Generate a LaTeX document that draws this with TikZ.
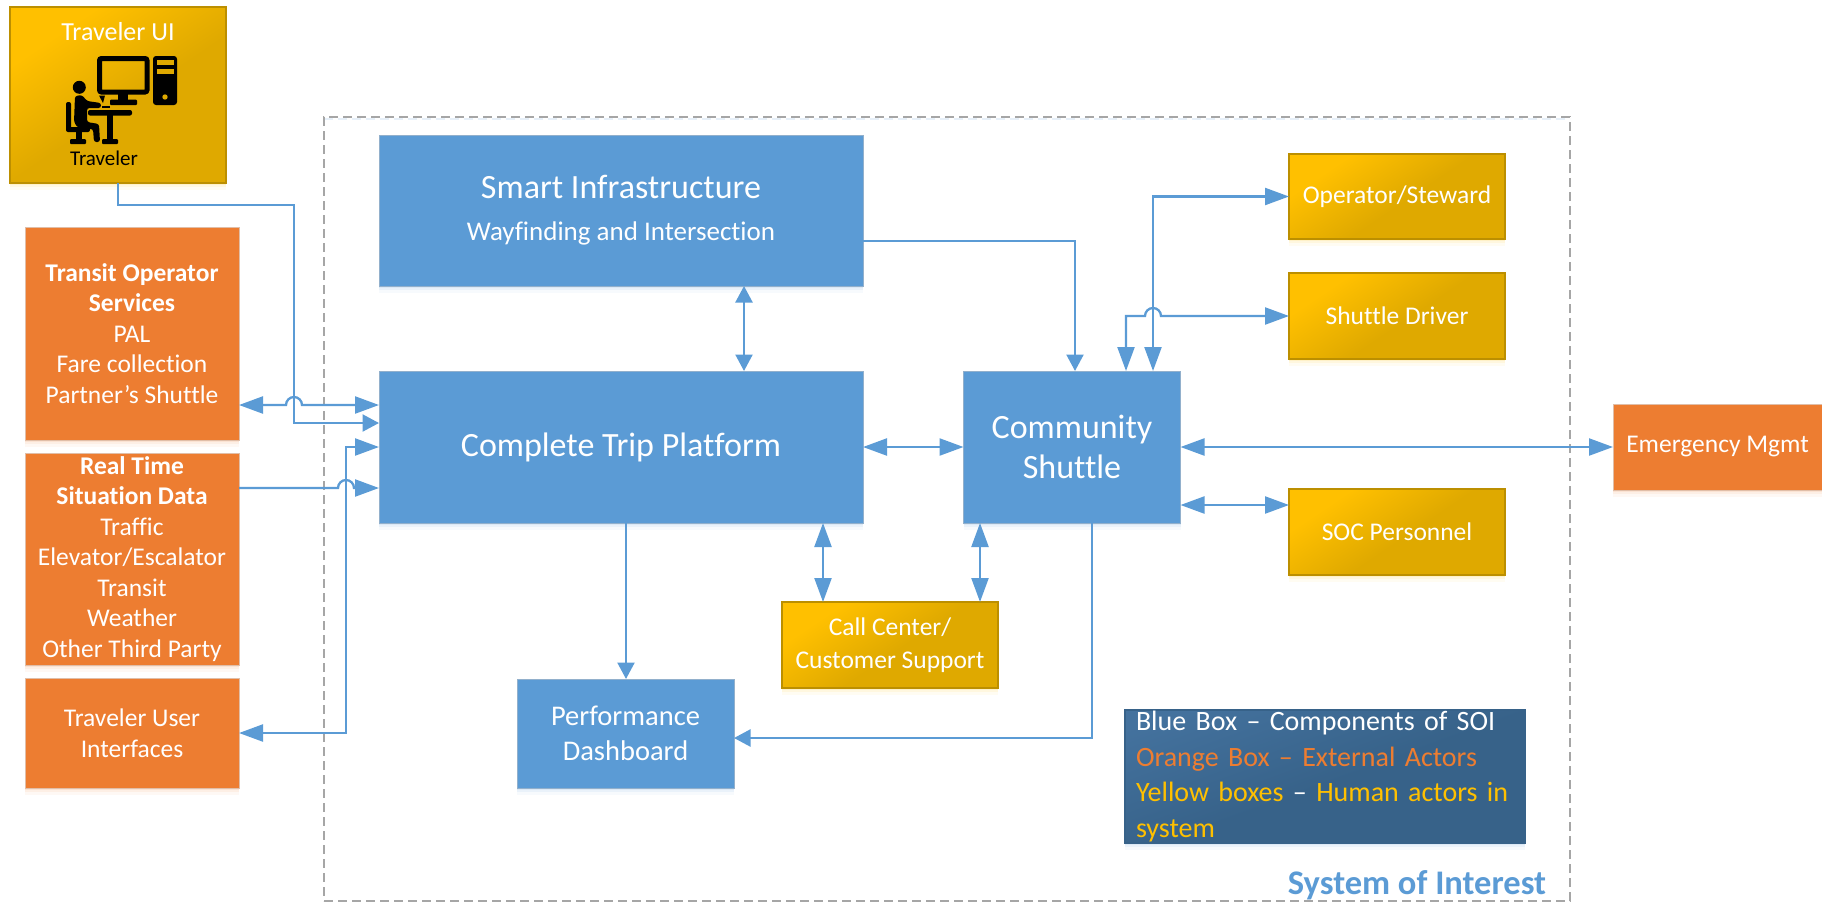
\documentclass[tikz,border=0pt]{standalone}
\usepackage{fontspec}
\setmainfont[Ligatures=NoCommon]{Carlito}
\usetikzlibrary{arrows.meta,shadows,calc}
\definecolor{cblue}{HTML}{5B9BD5}
\definecolor{corange}{HTML}{ED7D31}
\definecolor{cyl}{HTML}{FFC000}
\definecolor{cyd}{HTML}{DFA900}
\definecolor{cyb}{HTML}{BC8F00}
\definecolor{clegl}{HTML}{44729E}
\definecolor{clegd}{HTML}{376289}
\pgfdeclareverticalshading{yellowgrad}{100bp}{color(0bp)=(cyd); color(47bp)=(cyd); color(72bp)=(cyl); color(100bp)=(cyl)}
\pgfdeclareverticalshading{leggrad}{100bp}{color(0bp)=(clegd); color(48bp)=(clegd); color(78bp)=(clegl); color(100bp)=(clegl)}
\tikzset{
  softshadow/.style={
    general shadow={shadow xshift=0pt,shadow yshift=-2pt,opacity=.10,fill=#1},
    general shadow={shadow xshift=0pt,shadow yshift=-4pt,opacity=.08,fill=#1},
    general shadow={shadow xshift=0pt,shadow yshift=-7pt,opacity=.05,fill=#1}},
  basebox/.style={rectangle,inner sep=0pt,outer sep=0pt,align=center,text=white},
  bluebox/.style={basebox,softshadow=cblue,fill=cblue,draw=black!20!cblue!60!white,line width=.8pt},
  orangebox/.style={basebox,softshadow=corange,fill=corange,draw=corange!60!gray!50!white,line width=.8pt},
  yellowbox/.style={basebox,softshadow=cyl,shading=yellowgrad,shading angle=34,draw=cyb,line width=1.5pt},
  legbox/.style={basebox,softshadow=cblue,shading=leggrad,shading angle=20,draw=clegd,line width=1.2pt},
  conn/.style={draw=cblue,line width=2.3pt},
  arr/.style={conn,-{Triangle[length=24pt,width=17pt]}},
  darr/.style={conn,{Triangle[length=24pt,width=17pt]}-{Triangle[length=24pt,width=17pt]}},
  sarr/.style={conn,-{Triangle[length=16.5pt,width=17pt]}},
  sdarr/.style={conn,{Triangle[length=16.5pt,width=17pt]}-{Triangle[length=16.5pt,width=17pt]}},
  fbig/.style={font=\fontsize{34}{39.5}\selectfont},
  fmid/.style={font=\fontsize{25.5}{30.5}\selectfont},
}
\begin{document}
\begin{tikzpicture}[x=1pt,y=-1pt]
\useasboundingbox (0,0) rectangle (1822,903);
% System frame
\draw[cblue!15,line width=2pt,dash pattern=on 9pt off 5pt] (324,119) -- (1570,119);
\node[rectangle,draw=black!35,line width=1.3pt,dash pattern=on 9pt off 5pt,minimum width=1246pt,minimum height=784pt,inner sep=0pt] (soi) at (947,509) {};

% Boxes
\node[yellowbox,minimum width=216pt,minimum height=176pt] (tui) at (118,95) {};
\node[orangebox,fmid,minimum width=214pt,minimum height=213pt] (top) at (132,333.5)
  {\textbf{Transit Operator}\\\textbf{Services}\\PAL\\Fare collection\\Partner’s Shuttle};
\node[orangebox,fmid,minimum width=214pt,minimum height=212pt] (rts) at (132,559)
  {\textbf{Real Time}\\\textbf{Situation Data}\\Traffic\\Elevator/Escalator\\Transit\\Weather\\Other Third Party};
\node[orangebox,fmid,minimum width=214pt,minimum height=110pt] (tif) at (132,733)
  {Traveler User\\Interfaces};
\node[bluebox,font=\fontsize{34}{42}\selectfont,minimum width=484pt,minimum height=151pt] (si) at (621,210.5)
  {Smart Infrastructure\\{\fontsize{27}{42}\selectfont Wayfinding and Intersection}};
\node[bluebox,fbig,minimum width=484pt,minimum height=152pt] (ctp) at (621,447) {Complete Trip Platform};
\node[bluebox,fbig,minimum width=217pt,minimum height=152pt] (cs) at (1072,447) {Community\\Shuttle};
\node[yellowbox,fmid,minimum width=216pt,minimum height=85pt] (ops) at (1397,196.5) {Operator/Steward};
\node[yellowbox,fmid,minimum width=216pt,minimum height=86pt] (sd) at (1397,316) {Shuttle Driver};
\node[yellowbox,fmid,minimum width=216pt,minimum height=86pt] (soc) at (1397,532) {SOC Personnel};
\node[orangebox,fmid,minimum width=209pt,minimum height=86pt] (em) at (1717.5,447) {Emergency Mgmt};
\node[yellowbox,font=\fontsize{25.5}{33}\selectfont,minimum width=216pt,minimum height=86pt] (cc) at (890,645) {Call Center/\\Customer Support};
\node[bluebox,font=\fontsize{28.5}{35}\selectfont,minimum width=217pt,minimum height=109pt] (pd) at (625.5,733.5) {Performance\\Dashboard};
\node[legbox,font=\fontsize{28}{35.5}\selectfont,minimum height=133pt,text width=378pt,inner xsep=11pt,align=left] (leg) at (1325,776.5)
  {Blue Box – Components of SOI\\\textcolor{corange}{Orange Box – External Actors}\\\textcolor{cyl}{Yellow boxes} – \textcolor{cyl}{Human actors in}\\\textcolor{cyl}{system}};
\node[text=cblue,font=\fontsize{34.5}{40}\selectfont\bfseries,inner sep=0pt] (soilabel) at (1417,885) {System of Interest};

% Traveler UI contents
\node[text=white,font=\fontsize{26}{30}\selectfont,inner sep=0pt] (tuit) at (118,32) {Traveler UI};
\node[text=black,font=\fontsize{21}{24}\selectfont,inner sep=0pt] (tvl) at (104,158) {Traveler};
% icon
\draw[black,line width=5pt,rounded corners=2pt] (99.5,58.5) rectangle (147,92);
\fill[black] (118,92) rectangle (128,101);
\fill[black,rounded corners=1pt] (110,99.5) rectangle (137,105);
\fill[black,rounded corners=3pt] (153,56) rectangle (177,105);
\fill[cyd] (157,60) rectangle (174,65);
\fill[cyd] (157,68.5) rectangle (174,73.5);
\fill[cyd] (165,97) circle[radius=2.7pt];
\fill[black] (79.3,87.3) circle[radius=6.5pt];
\fill[black,rounded corners=2.5pt] (75,96) -- (82,95) -- (87,101) -- (101,103) -- (101,108) -- (87,108) -- (87,122) -- (99,124) -- (100,142) -- (94,142) -- (93,129) -- (78,128) -- (74,122) -- cycle;
\fill[black,rounded corners=2pt] (66,102) rectangle (71,131);
\fill[black,rounded corners=2pt] (66,127) rectangle (90,132);
\fill[black] (76,132) rectangle (82,140);
\fill[black,rounded corners=1pt] (70,139) rectangle (86,144);
\fill[black,rounded corners=2pt] (88,110) rectangle (132,115.5);
\fill[black] (107,115) rectangle (113,140);
\fill[black,rounded corners=1pt] (102,139) rectangle (118,144);
\fill[black] (99,95.5) -- (105,95.5) -- (103,103) -- cycle;
\fill[black] (102,106) rectangle (110,107.5);

% Connectors
\draw[sarr] (tui.south) -- (118,205) -- (294,205) -- (294,423) -- (ctp.west |- 0,423);
\draw[darr] (top.east |- 0,405) -- (286,405) arc[start angle=180,end angle=0,radius=8pt] -- (ctp.west |- 0,405);
\draw[arr] (rts.east |- 0,488) -- (338,488) arc[start angle=180,end angle=0,radius=8pt] -- (ctp.west |- 0,488);
\draw[darr] (tif.east |- 0,733) -- (346,733) -- (346,447) -- (ctp.west |- 0,447);
\draw[sdarr] (si.south -| 744,0) -- (ctp.north -| 744,0);
\draw[sarr] (si.east |- 0,241) -- (1075,241) -- (cs.north -| 1075,0);
\draw[darr] (ctp.east) -- (cs.west);
\draw[darr] (ctp.south -| 823,0) -- (cc.north -| 823,0);
\draw[darr] (cs.south -| 980,0) -- (cc.north -| 980,0);
\draw[sarr] (ctp.south -| 626,0) -- (pd.north -| 626,0);
\draw[sarr] (cs.south -| 1092,0) -- (1092,738) -- (pd.east |- 0,738);
\draw[darr] (cs.north -| 1153,0) -- (1153,196.5) -- (ops.west);
\draw[darr] (cs.north -| 1126,0) -- (1126,316) -- (1145,316) arc[start angle=180,end angle=0,radius=8pt] -- (sd.west);
\draw[darr] (cs.east) -- (em.west);
\draw[darr] (cs.east |- 0,505) -- (soc.west |- 0,505);
\end{tikzpicture}
\end{document}
